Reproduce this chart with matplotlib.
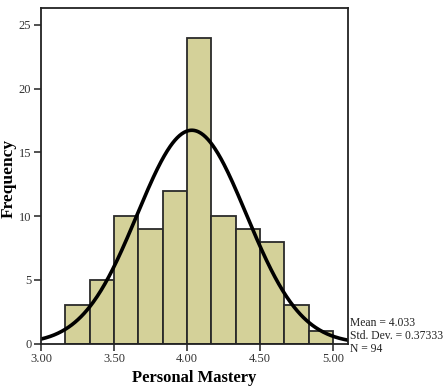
import numpy as np
import matplotlib

matplotlib.use("Agg")
import matplotlib.pyplot as plt

# histogram data
bin_start = 3.0 + 1 / 6
bin_width = 1 / 6
counts = [3, 5, 10, 9, 12, 24, 10, 9, 8, 3, 1]
mean = 4.033
std_dev = 0.37333
n_obs = 94

x_ticks = [3.0, 3.5, 4.0, 4.5, 5.0]
x_tick_labels = ["3.00", "3.50", "4.00", "4.50", "5.00"]
y_ticks = [0, 5, 10, 15, 20, 25]

plt.rcParams["font.family"] = ["Liberation Serif", "DejaVu Serif"]

W, H = 444, 390
fig = plt.figure(figsize=(W / 100, H / 100), dpi=100)
ax = fig.add_axes([41 / W, 46.3 / H, 307 / W, 335.7 / H])

lefts = bin_start + bin_width * np.arange(len(counts))
ax.bar(lefts, counts, width=bin_width, align="edge",
       color="#d4d199", edgecolor="#2a2a2a", linewidth=1.3)

xs = np.linspace(3.0, 5.103, 400)
pdf = np.exp(-0.5 * ((xs - mean) / std_dev) ** 2) / (std_dev * np.sqrt(2 * np.pi))
ax.plot(xs, pdf * n_obs * bin_width, color="black", linewidth=2.6)

ax.set_xlim(3.0, 5.103)
ax.set_ylim(0, 26.33)
ax.set_xticks(x_ticks)
ax.set_xticklabels(x_tick_labels)
ax.set_yticks(y_ticks)
ax.tick_params(axis="both", labelsize=9, direction="out", length=5,
               width=1.2, colors="#333333", pad=2)
for spine in ax.spines.values():
    spine.set_linewidth(1.3)
    spine.set_color("#222222")

ax.set_xlabel("Personal Mastery", fontsize=12, fontweight="bold", labelpad=3)
fig.text(9 / W, 1 - 178 / H, "Frequency", rotation=90, fontsize=12.5,
         fontweight="bold", ha="center", va="center")

stats = [f"Mean = {mean:.3f}", f"Std. Dev. = {std_dev:.5f}", f"N = {n_obs}"]
for i, line in enumerate(stats):
    fig.text(349.5 / W, 1 - (326 + 13 * i) / H, line, fontsize=8.4,
             ha="left", va="baseline", color="#222222")

fig.savefig("out.png", dpi=100)
plt.close(fig)
